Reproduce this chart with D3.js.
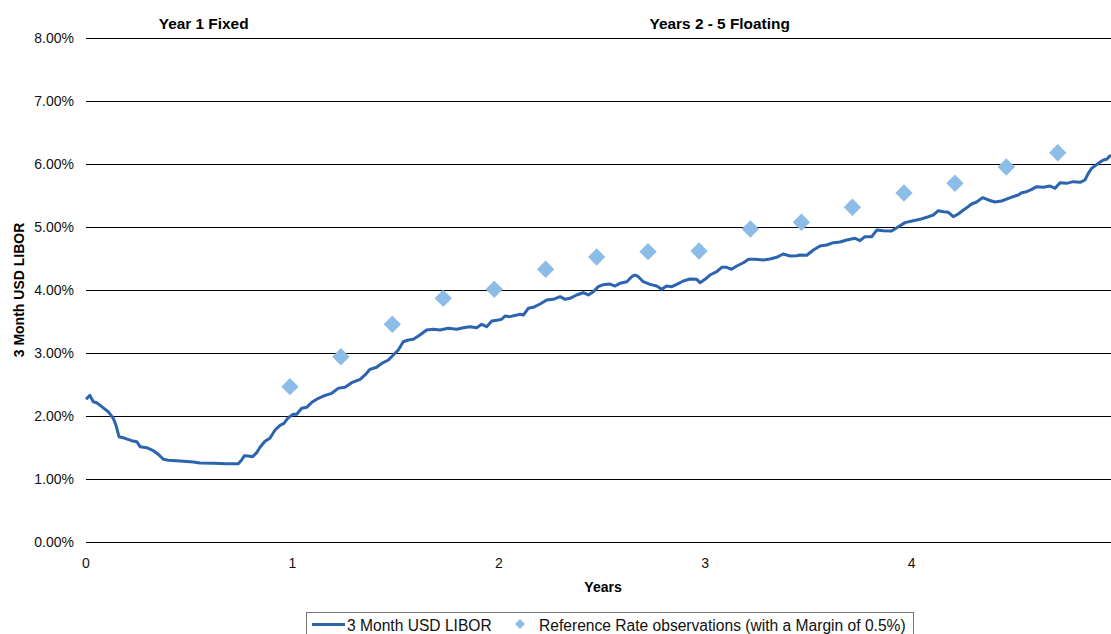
<!DOCTYPE html>
<html lang="en">
<head>
    <meta charset="UTF-8">
    <title>3 Month USD LIBOR</title>
    <style>
        body { margin: 0; background: #fff; }
        svg { display: block; font-family: "Liberation Sans", Arial, sans-serif; }
        .grid line { stroke: #000; stroke-width: 1.2px; shape-rendering: crispEdges; }
        .tick-label { font-size: 14px; fill: #111; }
        .axis-title { font-size: 14px; font-weight: bold; fill: #000; }
        .period-label { font-size: 15.4px; font-weight: bold; fill: #000; }
        .legend-text { font-size: 15.6px; fill: #111; }
    </style>
</head>
<body>
<svg width="1111" height="634"></svg>
<script src="https://d3js.org/d3.v7.min.js"></script>
<script>
    // 3 month LIBOR path (years, %)
    const liborYears = [
        0.000, 0.019, 0.035, 0.052, 0.076, 0.108, 0.132, 0.145, 0.160, 0.189,
        0.221, 0.246, 0.262, 0.294, 0.326, 0.350, 0.375, 0.399, 0.455, 0.520,
        0.552, 0.617, 0.682, 0.738, 0.754, 0.767, 0.786, 0.807, 0.827, 0.843,
        0.867, 0.891, 0.916, 0.940, 0.959, 0.980, 1.004, 1.021, 1.045, 1.069,
        1.094, 1.126, 1.150, 1.190, 1.222, 1.255, 1.287, 1.328, 1.352, 1.376,
        1.408, 1.433, 1.465, 1.489, 1.513, 1.537, 1.562, 1.586, 1.618, 1.650,
        1.683, 1.715, 1.755, 1.796, 1.828, 1.860, 1.893, 1.917, 1.941, 1.966,
        1.998, 2.014, 2.030, 2.054, 2.103, 2.119, 2.143, 2.167, 2.200, 2.232,
        2.264, 2.297, 2.321, 2.345, 2.377, 2.409, 2.434, 2.458, 2.482, 2.506,
        2.539, 2.563, 2.587, 2.620, 2.644, 2.660, 2.676, 2.700, 2.733, 2.765,
        2.789, 2.813, 2.838, 2.862, 2.894, 2.926, 2.959, 2.975, 2.999, 3.023,
        3.056, 3.080, 3.104, 3.128, 3.153, 3.185, 3.210, 3.241, 3.282, 3.314,
        3.346, 3.378, 3.411, 3.443, 3.459, 3.492, 3.524, 3.556, 3.589, 3.621,
        3.653, 3.686, 3.726, 3.750, 3.774, 3.807, 3.831, 3.863, 3.903, 3.936,
        3.968, 4.008, 4.041, 4.073, 4.105, 4.129, 4.154, 4.178, 4.202, 4.226,
        4.251, 4.267, 4.291, 4.315, 4.344, 4.372, 4.404, 4.436, 4.469, 4.501,
        4.517, 4.533, 4.557, 4.582, 4.606, 4.638, 4.671, 4.695, 4.719, 4.751,
        4.783, 4.816, 4.840, 4.856, 4.872, 4.905, 4.929, 4.945, 4.965
    ];
    const liborRates = [
        2.265, 2.328, 2.227, 2.210, 2.148, 2.068, 1.963, 1.857, 1.671, 1.646,
        1.608, 1.592, 1.513, 1.497, 1.449, 1.392, 1.313, 1.297, 1.286, 1.270,
        1.254, 1.249, 1.243, 1.243, 1.302, 1.370, 1.365, 1.354, 1.418, 1.503,
        1.598, 1.646, 1.778, 1.852, 1.884, 1.973, 2.027, 2.027, 2.122, 2.138,
        2.217, 2.281, 2.317, 2.360, 2.439, 2.455, 2.529, 2.582, 2.651, 2.741,
        2.773, 2.836, 2.889, 2.968, 3.048, 3.179, 3.206, 3.217, 3.286, 3.365,
        3.376, 3.365, 3.392, 3.376, 3.402, 3.418, 3.402, 3.455, 3.418, 3.508,
        3.524, 3.535, 3.587, 3.577, 3.614, 3.603, 3.709, 3.725, 3.778, 3.841,
        3.852, 3.894, 3.852, 3.868, 3.921, 3.957, 3.921, 3.973, 4.053, 4.085,
        4.095, 4.063, 4.106, 4.132, 4.211, 4.238, 4.211, 4.132, 4.090, 4.063,
        4.011, 4.063, 4.053, 4.090, 4.143, 4.175, 4.169, 4.116, 4.169, 4.238,
        4.291, 4.360, 4.360, 4.328, 4.381, 4.433, 4.487, 4.487, 4.476, 4.492,
        4.519, 4.571, 4.540, 4.544, 4.556, 4.551, 4.635, 4.698, 4.714, 4.751,
        4.762, 4.794, 4.820, 4.783, 4.846, 4.846, 4.952, 4.941, 4.937, 5.005,
        5.069, 5.100, 5.122, 5.154, 5.190, 5.259, 5.243, 5.233, 5.164, 5.206,
        5.270, 5.307, 5.365, 5.397, 5.466, 5.429, 5.397, 5.413, 5.455, 5.492,
        5.508, 5.545, 5.561, 5.598, 5.640, 5.630, 5.651, 5.614, 5.704, 5.693,
        5.720, 5.709, 5.746, 5.852, 5.931, 6.011, 6.063, 6.074, 6.143
    ];

    // reference rate observations (LIBOR + 0.5% margin)
    const obsYears = [0.988, 1.235, 1.484, 1.731, 1.978, 2.227, 2.474, 2.723,
                      2.970, 3.219, 3.466, 3.713, 3.963, 4.210, 4.459, 4.708];
    const obsRates = [2.465, 2.941, 3.456, 3.868, 4.011, 4.329, 4.524, 4.608,
                      4.619, 4.968, 5.075, 5.313, 5.540, 5.694, 5.952, 6.179];

    const yTicks = [0, 1, 2, 3, 4, 5, 6, 7, 8];
    const xTicks = [0, 1, 2, 3, 4];
    const periodLabels = ["Year 1 Fixed", "Years 2 - 5 Floating"];
    const periodCentres = [0.57, 3.07];
    const seriesNames = ["3 Month USD LIBOR", "Reference Rate observations (with a Margin of 0.5%)"];

    const lineColor = "#2C64B0";
    const markColor = "#8DBDE7";

    const svg = d3.select("svg");
    const plotLeft = 86, plotRight = 1111, plotTop = 38, plotBottom = 542;

    const x = d3.scaleLinear().domain([0, 4.966]).range([plotLeft, plotRight]);
    const y = d3.scaleLinear().domain([0, 8]).range([plotBottom, plotTop]);

    // gridlines
    svg.append("g").attr("class", "grid")
        .selectAll("line").data(yTicks).enter().append("line")
        .attr("x1", plotLeft).attr("x2", plotRight)
        .attr("y1", d => Math.round(y(d)) + 0.5).attr("y2", d => Math.round(y(d)) + 0.5);

    // y tick labels
    svg.append("g").selectAll("text").data(yTicks).enter().append("text")
        .attr("class", "tick-label")
        .attr("x", 74).attr("y", d => y(d) + 5)
        .attr("text-anchor", "end")
        .text(d => d3.format(".2f")(d) + "%");

    // x tick labels
    svg.append("g").selectAll("text").data(xTicks).enter().append("text")
        .attr("class", "tick-label")
        .attr("x", d => x(d)).attr("y", 568)
        .attr("text-anchor", "middle")
        .text(d => d);

    svg.append("text").attr("class", "axis-title")
        .attr("x", 603).attr("y", 592).attr("text-anchor", "middle").text("Years");

    svg.append("text").attr("class", "axis-title")
        .attr("transform", "translate(24,290) rotate(-90)")
        .attr("text-anchor", "middle").text("3 Month USD LIBOR");

    svg.append("g").selectAll("text").data(periodLabels).enter().append("text")
        .attr("class", "period-label")
        .attr("x", (d, i) => x(periodCentres[i])).attr("y", 29)
        .attr("text-anchor", "middle")
        .text(d => d);

    // LIBOR line
    const line = d3.line()
        .x(i => x(liborYears[i]))
        .y(i => y(liborRates[i]));

    svg.append("path")
        .datum(d3.range(liborYears.length))
        .attr("fill", "none")
        .attr("stroke", lineColor)
        .attr("stroke-width", 3)
        .attr("stroke-linejoin", "round")
        .attr("d", line);

    // observation diamonds
    const diamond = d3.symbol().type(d3.symbolSquare).size(150);
    svg.append("g").selectAll("path").data(d3.range(obsYears.length)).enter().append("path")
        .attr("d", diamond)
        .attr("fill", markColor)
        .attr("transform", i => `translate(${x(obsYears[i])},${y(obsRates[i])}) rotate(45)`);

    // legend
    const legend = svg.append("g");
    legend.append("rect")
        .attr("x", 306.5).attr("y", 612.5)
        .attr("width", 607).attr("height", 30)
        .attr("fill", "#fff").attr("stroke", "#777").attr("stroke-width", 1);
    legend.append("line")
        .attr("x1", 312).attr("x2", 345).attr("y1", 624.5).attr("y2", 624.5)
        .attr("stroke", lineColor).attr("stroke-width", 3);
    legend.append("text").attr("class", "legend-text")
        .attr("x", 347).attr("y", 631).text(seriesNames[0]);
    legend.append("path")
        .attr("d", d3.symbol().type(d3.symbolSquare).size(50))
        .attr("fill", markColor)
        .attr("transform", "translate(520,624) rotate(45)");
    legend.append("text").attr("class", "legend-text")
        .attr("x", 539).attr("y", 631).text(seriesNames[1]);
</script>
</body>
</html>
